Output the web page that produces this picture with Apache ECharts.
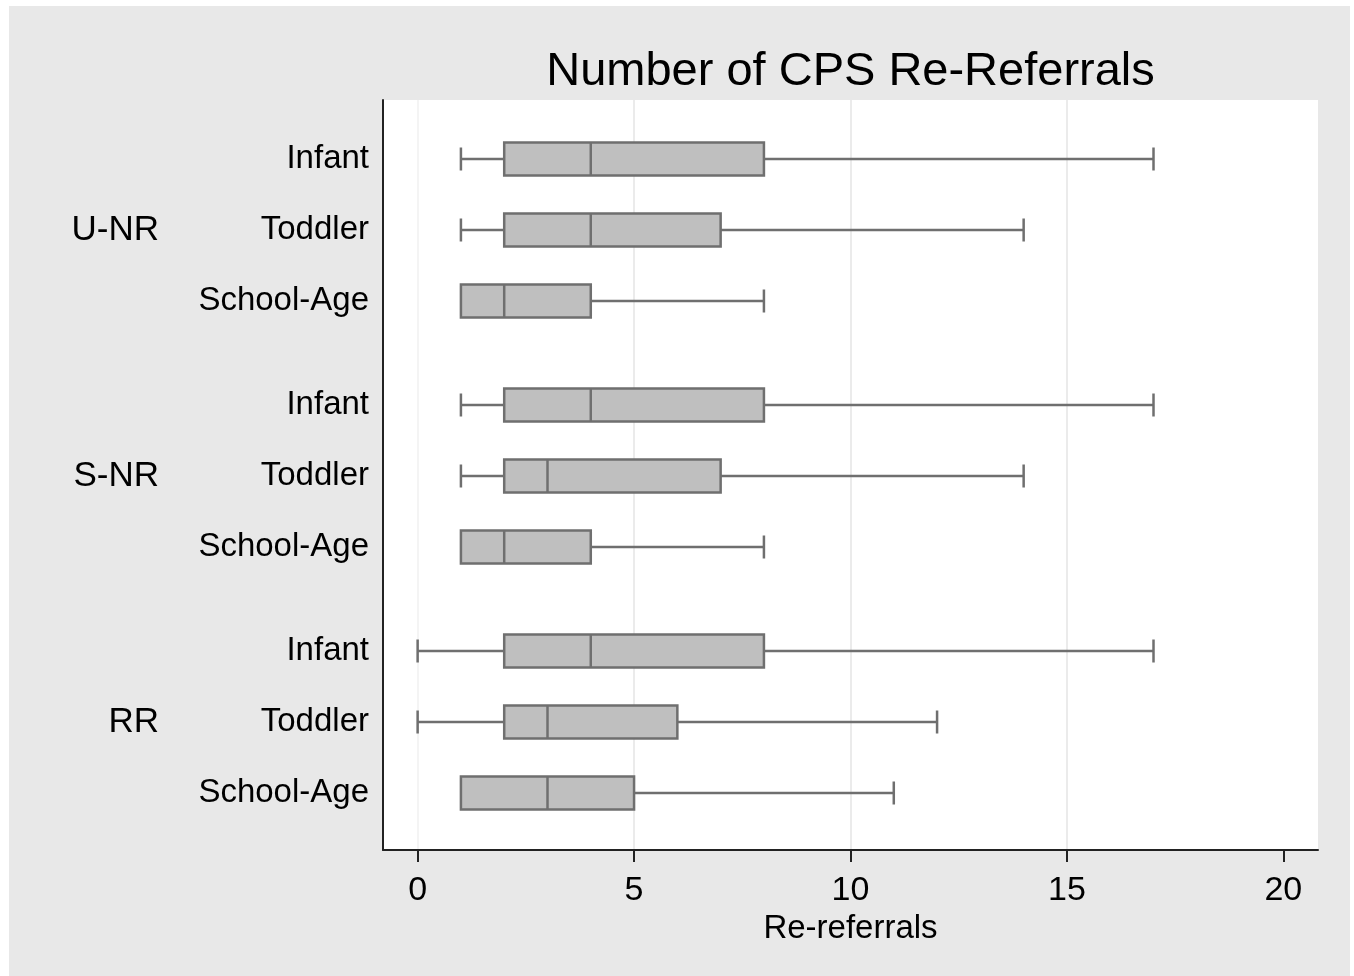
<!DOCTYPE html>
<html>
<head>
<meta charset="utf-8">
<title>Number of CPS Re-Referrals</title>
<script src="https://cdn.jsdelivr.net/npm/echarts@6/dist/echarts.min.js"></script>
<style>
  html, body { margin: 0; padding: 0; background: #ffffff; }
  #chart { position: absolute; left: 9px; top: 6px; width: 1341px; height: 970px; }
</style>
</head>
<body>
<div id="chart"></div>
<script>
// groups and age rows, top to bottom
const groups = ['U-NR', 'S-NR', 'RR'];
const ages = ['Infant', 'Toddler', 'School-Age'];

// one entry per row, order: U-NR (Infant, Toddler, School-Age), S-NR (...), RR (...)
const lowWhisker  = [1, 1, 1,   1, 1, 1,   0, 0, 1];
const q1          = [2, 2, 1,   2, 2, 1,   2, 2, 1];
const median      = [4, 4, 2,   4, 3, 2,   4, 3, 3];
const q3          = [8, 7, 4,   8, 7, 4,   8, 6, 5];
const highWhisker = [17, 14, 8, 17, 14, 8, 17, 12, 11];

const xTicks = [0, 5, 10, 15, 20];

// vertical layout of the rows (in slot units, axis runs 0..750 top to bottom)
const rowTop = 59, rowStep = 71, groupStep = 246, yMax = 750;
function rowPos(g, r) { return rowTop + g * groupStep + r * rowStep; }

const rowPositions = [];
const rowNames = {};
const groupPositions = [];
const groupNames = {};
groups.forEach(function (g, gi) {
    ages.forEach(function (a, ri) {
        const p = rowPos(gi, ri);
        rowPositions.push(p);
        rowNames[p] = a;
    });
    const c = rowPos(gi, 1);
    groupPositions.push(c);
    groupNames[c] = g;
});

const boxData = rowPositions.map(function (p, i) {
    return [p, lowWhisker[i], q1[i], median[i], q3[i], highWhisker[i]];
});

const FONT = 'Liberation Sans, Arial, sans-serif';
const STROKE = '#6f6f6f';

function renderBox(params, api) {
    const y = api.value(0);
    const pMin = api.coord([api.value(1), y]);
    const pQ1 = api.coord([api.value(2), y]);
    const pMed = api.coord([api.value(3), y]);
    const pQ3 = api.coord([api.value(4), y]);
    const pMax = api.coord([api.value(5), y]);
    const boxH = 33, capH = 23;
    const cy = pMed[1];
    const line = { stroke: STROKE, lineWidth: 2.5 };
    const children = [];
    if (pMin[0] < pQ1[0]) {
        children.push({ type: 'line', shape: { x1: pMin[0], y1: cy, x2: pQ1[0], y2: cy }, style: line });
        children.push({ type: 'line', shape: { x1: pMin[0], y1: cy - capH / 2, x2: pMin[0], y2: cy + capH / 2 }, style: line });
    }
    if (pMax[0] > pQ3[0]) {
        children.push({ type: 'line', shape: { x1: pQ3[0], y1: cy, x2: pMax[0], y2: cy }, style: line });
        children.push({ type: 'line', shape: { x1: pMax[0], y1: cy - capH / 2, x2: pMax[0], y2: cy + capH / 2 }, style: line });
    }
    children.push({
        type: 'rect',
        shape: { x: pQ1[0], y: cy - boxH / 2, width: pQ3[0] - pQ1[0], height: boxH },
        style: { fill: '#bfbfbf', stroke: STROKE, lineWidth: 2.5 }
    });
    children.push({ type: 'line', shape: { x1: pMed[0], y1: cy - boxH / 2, x2: pMed[0], y2: cy + boxH / 2 }, style: line });
    return { type: 'group', children: children };
}

const chart = echarts.init(document.getElementById('chart'));
chart.setOption({
    backgroundColor: '#e8e8e8',
    animation: false,
    title: {
        text: 'Number of CPS Re-Referrals',
        left: 836.5,
        textAlign: 'center',
        top: 38,
        textStyle: { fontFamily: FONT, fontSize: 47, fontWeight: 'normal', color: '#000' }
    },
    grid: { left: 374, right: 32, top: 94, bottom: 126, backgroundColor: '#ffffff', show: true, borderWidth: 0 },
    xAxis: {
        type: 'value',
        min: -0.8,
        max: 20.8,
        name: 'Re-referrals',
        nameLocation: 'middle',
        nameGap: 61,
        nameTextStyle: { fontFamily: FONT, fontSize: 33, color: '#000' },
        axisLine: { show: true, onZero: false, lineStyle: { color: '#222', width: 2 } },
        axisTick: { show: true, length: 12, lineStyle: { color: '#222', width: 2 }, customValues: xTicks },
        axisLabel: { customValues: xTicks, margin: 24, fontFamily: FONT, fontSize: 34, color: '#000' },
        splitLine: { show: true, lineStyle: { color: ['#f0f0f0', '#e4e4e4', '#e4e4e4', '#e4e4e4', 'rgba(0,0,0,0)'], width: 1.5 } }
    },
    yAxis: [
        {
            type: 'value',
            inverse: true,
            min: 0,
            max: yMax,
            position: 'left',
            axisLine: { show: true, onZero: false, lineStyle: { color: '#222', width: 2 } },
            axisTick: { show: false, customValues: rowPositions },
            splitLine: { show: false },
            axisLabel: {
                customValues: rowPositions,
                margin: 14,
                padding: [4, 0, 0, 0],
                fontFamily: FONT,
                fontSize: 33,
                color: '#000',
                formatter: function (v) { return rowNames[v] || ''; }
            }
        },
        {
            type: 'value',
            inverse: true,
            min: 0,
            max: yMax,
            position: 'left',
            offset: 0,
            axisLine: { show: false, onZero: false },
            axisTick: { show: false, customValues: groupPositions },
            splitLine: { show: false },
            axisLabel: {
                customValues: groupPositions,
                margin: 224,
                padding: [4, 0, 0, 0],
                fontFamily: FONT,
                fontSize: 35,
                color: '#000',
                formatter: function (v) { return groupNames[v] || ''; }
            }
        }
    ],
    series: [
        {
            type: 'custom',
            name: 'Re-referrals',
            renderItem: renderBox,
            encode: { x: [1, 2, 3, 4, 5], y: 0 },
            data: boxData,
            z: 3
        }
    ]
});
</script>
</body>
</html>
